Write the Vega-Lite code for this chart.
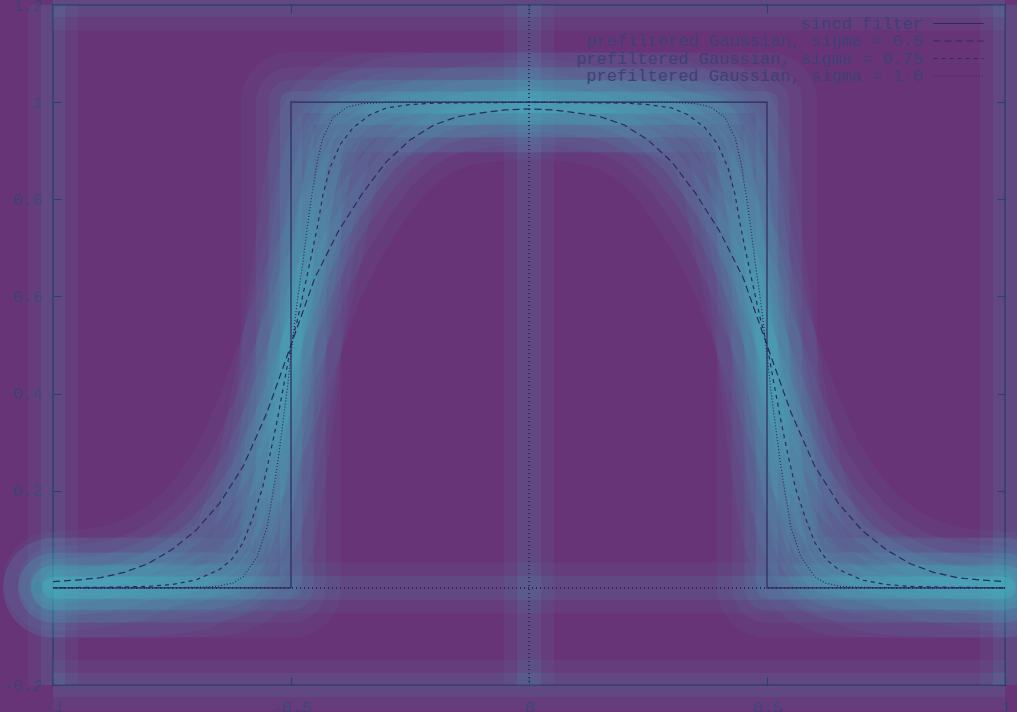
{
  "$schema": "https://vega.github.io/schema/vega-lite/v6.json",
  "width": 952,
  "height": 680,
  "autosize": "none",
  "padding": {"left": 53, "top": 5, "right": 12, "bottom": 27},
  "background": "#683478",
  "config": {
    "view": {"stroke": "#2c2a5e", "strokeWidth": 1.5},
    "font": "Liberation Mono",
    "axis": {
      "domain": false,
      "grid": false,
      "tickColor": "#2c2a5e",
      "tickWidth": 1.2,
      "tickSize": -8,
      "labelFont": "Liberation Mono",
      "labelFontSize": 16.5,
      "labelColor": "#3d4176",
      "labelFlush": false,
      "title": null
    },
    "legend": {
      "orient": "none",
      "legendX": 897,
      "legendY": 10,
      "symbolType": "M-5,0H5",
      "symbolSize": 100,
      "symbolStrokeWidth": 1.2,
      "symbolStrokeColor": "#2c2a5e",
      "symbolFillColor": "transparent",
      "labelFont": "Liberation Mono",
      "labelFontSize": 17,
      "labelColor": "#3d4176",
      "labelAlign": "right",
      "labelOffset": -44,
      "labelLimit": 0,
      "rowPadding": -0.5,
      "title": null
    }
  },
  "datasets": {
    "vr": [{"x": -1}, {"x": 0}, {"x": 1}],
    "hr": [{"y": -0.2}, {"y": 0}, {"y": 1.2}]
  },
  "data": {"values": [
    {"s": "sincd filter", "x": -1, "y": 0},
    {"s": "sincd filter", "x": -0.5, "y": 0},
    {"s": "sincd filter", "x": -0.5, "y": 1},
    {"s": "sincd filter", "x": 0.5, "y": 1},
    {"s": "sincd filter", "x": 0.5, "y": 0},
    {"s": "sincd filter", "x": 1, "y": 0},

    {"s": "prefiltered Gaussian, sigma = 0.5", "x": -1, "y": 0.013},
    {"s": "prefiltered Gaussian, sigma = 0.5", "x": -0.95, "y": 0.016},
    {"s": "prefiltered Gaussian, sigma = 0.5", "x": -0.9, "y": 0.021},
    {"s": "prefiltered Gaussian, sigma = 0.5", "x": -0.85, "y": 0.032},
    {"s": "prefiltered Gaussian, sigma = 0.5", "x": -0.8, "y": 0.05},
    {"s": "prefiltered Gaussian, sigma = 0.5", "x": -0.75, "y": 0.079},
    {"s": "prefiltered Gaussian, sigma = 0.5", "x": -0.7, "y": 0.118},
    {"s": "prefiltered Gaussian, sigma = 0.5", "x": -0.65, "y": 0.174},
    {"s": "prefiltered Gaussian, sigma = 0.5", "x": -0.6, "y": 0.251},
    {"s": "prefiltered Gaussian, sigma = 0.5", "x": -0.55, "y": 0.362},
    {"s": "prefiltered Gaussian, sigma = 0.5", "x": -0.5, "y": 0.5},
    {"s": "prefiltered Gaussian, sigma = 0.5", "x": -0.45, "y": 0.638},
    {"s": "prefiltered Gaussian, sigma = 0.5", "x": -0.4, "y": 0.735},
    {"s": "prefiltered Gaussian, sigma = 0.5", "x": -0.35, "y": 0.812},
    {"s": "prefiltered Gaussian, sigma = 0.5", "x": -0.3, "y": 0.877},
    {"s": "prefiltered Gaussian, sigma = 0.5", "x": -0.25, "y": 0.922},
    {"s": "prefiltered Gaussian, sigma = 0.5", "x": -0.2, "y": 0.953},
    {"s": "prefiltered Gaussian, sigma = 0.5", "x": -0.15, "y": 0.97},
    {"s": "prefiltered Gaussian, sigma = 0.5", "x": -0.1, "y": 0.978},
    {"s": "prefiltered Gaussian, sigma = 0.5", "x": -0.05, "y": 0.984},
    {"s": "prefiltered Gaussian, sigma = 0.5", "x": 0, "y": 0.986},
    {"s": "prefiltered Gaussian, sigma = 0.5", "x": 0.05, "y": 0.984},
    {"s": "prefiltered Gaussian, sigma = 0.5", "x": 0.1, "y": 0.978},
    {"s": "prefiltered Gaussian, sigma = 0.5", "x": 0.15, "y": 0.97},
    {"s": "prefiltered Gaussian, sigma = 0.5", "x": 0.2, "y": 0.953},
    {"s": "prefiltered Gaussian, sigma = 0.5", "x": 0.25, "y": 0.922},
    {"s": "prefiltered Gaussian, sigma = 0.5", "x": 0.3, "y": 0.877},
    {"s": "prefiltered Gaussian, sigma = 0.5", "x": 0.35, "y": 0.812},
    {"s": "prefiltered Gaussian, sigma = 0.5", "x": 0.4, "y": 0.735},
    {"s": "prefiltered Gaussian, sigma = 0.5", "x": 0.45, "y": 0.638},
    {"s": "prefiltered Gaussian, sigma = 0.5", "x": 0.5, "y": 0.5},
    {"s": "prefiltered Gaussian, sigma = 0.5", "x": 0.55, "y": 0.362},
    {"s": "prefiltered Gaussian, sigma = 0.5", "x": 0.6, "y": 0.251},
    {"s": "prefiltered Gaussian, sigma = 0.5", "x": 0.65, "y": 0.174},
    {"s": "prefiltered Gaussian, sigma = 0.5", "x": 0.7, "y": 0.118},
    {"s": "prefiltered Gaussian, sigma = 0.5", "x": 0.75, "y": 0.079},
    {"s": "prefiltered Gaussian, sigma = 0.5", "x": 0.8, "y": 0.05},
    {"s": "prefiltered Gaussian, sigma = 0.5", "x": 0.85, "y": 0.032},
    {"s": "prefiltered Gaussian, sigma = 0.5", "x": 0.9, "y": 0.021},
    {"s": "prefiltered Gaussian, sigma = 0.5", "x": 0.95, "y": 0.016},
    {"s": "prefiltered Gaussian, sigma = 0.5", "x": 1, "y": 0.013},

    {"s": "prefiltered Gaussian, sigma = 0.75", "x": -1, "y": 0.0005},
    {"s": "prefiltered Gaussian, sigma = 0.75", "x": -0.9, "y": 0.001},
    {"s": "prefiltered Gaussian, sigma = 0.75", "x": -0.8, "y": 0.003},
    {"s": "prefiltered Gaussian, sigma = 0.75", "x": -0.75, "y": 0.007},
    {"s": "prefiltered Gaussian, sigma = 0.75", "x": -0.7, "y": 0.016},
    {"s": "prefiltered Gaussian, sigma = 0.75", "x": -0.65, "y": 0.038},
    {"s": "prefiltered Gaussian, sigma = 0.75", "x": -0.625, "y": 0.058},
    {"s": "prefiltered Gaussian, sigma = 0.75", "x": -0.6, "y": 0.094},
    {"s": "prefiltered Gaussian, sigma = 0.75", "x": -0.58, "y": 0.146},
    {"s": "prefiltered Gaussian, sigma = 0.75", "x": -0.56, "y": 0.205},
    {"s": "prefiltered Gaussian, sigma = 0.75", "x": -0.545, "y": 0.27},
    {"s": "prefiltered Gaussian, sigma = 0.75", "x": -0.53, "y": 0.34},
    {"s": "prefiltered Gaussian, sigma = 0.75", "x": -0.517, "y": 0.408},
    {"s": "prefiltered Gaussian, sigma = 0.75", "x": -0.5, "y": 0.5},
    {"s": "prefiltered Gaussian, sigma = 0.75", "x": -0.487, "y": 0.55},
    {"s": "prefiltered Gaussian, sigma = 0.75", "x": -0.475, "y": 0.603},
    {"s": "prefiltered Gaussian, sigma = 0.75", "x": -0.46, "y": 0.671},
    {"s": "prefiltered Gaussian, sigma = 0.75", "x": -0.445, "y": 0.741},
    {"s": "prefiltered Gaussian, sigma = 0.75", "x": -0.433, "y": 0.809},
    {"s": "prefiltered Gaussian, sigma = 0.75", "x": -0.418, "y": 0.865},
    {"s": "prefiltered Gaussian, sigma = 0.75", "x": -0.397, "y": 0.912},
    {"s": "prefiltered Gaussian, sigma = 0.75", "x": -0.37, "y": 0.947},
    {"s": "prefiltered Gaussian, sigma = 0.75", "x": -0.334, "y": 0.974},
    {"s": "prefiltered Gaussian, sigma = 0.75", "x": -0.3, "y": 0.988},
    {"s": "prefiltered Gaussian, sigma = 0.75", "x": -0.25, "y": 0.995},
    {"s": "prefiltered Gaussian, sigma = 0.75", "x": -0.2, "y": 0.998},
    {"s": "prefiltered Gaussian, sigma = 0.75", "x": -0.1, "y": 0.999},
    {"s": "prefiltered Gaussian, sigma = 0.75", "x": 0, "y": 0.9995},
    {"s": "prefiltered Gaussian, sigma = 0.75", "x": 0.1, "y": 0.999},
    {"s": "prefiltered Gaussian, sigma = 0.75", "x": 0.2, "y": 0.998},
    {"s": "prefiltered Gaussian, sigma = 0.75", "x": 0.25, "y": 0.995},
    {"s": "prefiltered Gaussian, sigma = 0.75", "x": 0.3, "y": 0.988},
    {"s": "prefiltered Gaussian, sigma = 0.75", "x": 0.334, "y": 0.974},
    {"s": "prefiltered Gaussian, sigma = 0.75", "x": 0.37, "y": 0.947},
    {"s": "prefiltered Gaussian, sigma = 0.75", "x": 0.397, "y": 0.912},
    {"s": "prefiltered Gaussian, sigma = 0.75", "x": 0.418, "y": 0.865},
    {"s": "prefiltered Gaussian, sigma = 0.75", "x": 0.433, "y": 0.809},
    {"s": "prefiltered Gaussian, sigma = 0.75", "x": 0.445, "y": 0.741},
    {"s": "prefiltered Gaussian, sigma = 0.75", "x": 0.46, "y": 0.671},
    {"s": "prefiltered Gaussian, sigma = 0.75", "x": 0.475, "y": 0.603},
    {"s": "prefiltered Gaussian, sigma = 0.75", "x": 0.487, "y": 0.55},
    {"s": "prefiltered Gaussian, sigma = 0.75", "x": 0.5, "y": 0.5},
    {"s": "prefiltered Gaussian, sigma = 0.75", "x": 0.517, "y": 0.408},
    {"s": "prefiltered Gaussian, sigma = 0.75", "x": 0.53, "y": 0.34},
    {"s": "prefiltered Gaussian, sigma = 0.75", "x": 0.545, "y": 0.27},
    {"s": "prefiltered Gaussian, sigma = 0.75", "x": 0.56, "y": 0.205},
    {"s": "prefiltered Gaussian, sigma = 0.75", "x": 0.58, "y": 0.146},
    {"s": "prefiltered Gaussian, sigma = 0.75", "x": 0.6, "y": 0.094},
    {"s": "prefiltered Gaussian, sigma = 0.75", "x": 0.625, "y": 0.058},
    {"s": "prefiltered Gaussian, sigma = 0.75", "x": 0.65, "y": 0.038},
    {"s": "prefiltered Gaussian, sigma = 0.75", "x": 0.7, "y": 0.016},
    {"s": "prefiltered Gaussian, sigma = 0.75", "x": 0.75, "y": 0.007},
    {"s": "prefiltered Gaussian, sigma = 0.75", "x": 0.8, "y": 0.003},
    {"s": "prefiltered Gaussian, sigma = 0.75", "x": 0.9, "y": 0.001},
    {"s": "prefiltered Gaussian, sigma = 0.75", "x": 1, "y": 0.0005},

    {"s": "prefiltered Gaussian, sigma = 1.0", "x": -1, "y": 0},
    {"s": "prefiltered Gaussian, sigma = 1.0", "x": -0.8, "y": 0},
    {"s": "prefiltered Gaussian, sigma = 1.0", "x": -0.7, "y": 0.001},
    {"s": "prefiltered Gaussian, sigma = 1.0", "x": -0.655, "y": 0.003},
    {"s": "prefiltered Gaussian, sigma = 1.0", "x": -0.622, "y": 0.01},
    {"s": "prefiltered Gaussian, sigma = 1.0", "x": -0.6, "y": 0.023},
    {"s": "prefiltered Gaussian, sigma = 1.0", "x": -0.571, "y": 0.064},
    {"s": "prefiltered Gaussian, sigma = 1.0", "x": -0.55, "y": 0.126},
    {"s": "prefiltered Gaussian, sigma = 1.0", "x": -0.538, "y": 0.196},
    {"s": "prefiltered Gaussian, sigma = 1.0", "x": -0.527, "y": 0.264},
    {"s": "prefiltered Gaussian, sigma = 1.0", "x": -0.517, "y": 0.34},
    {"s": "prefiltered Gaussian, sigma = 1.0", "x": -0.508, "y": 0.408},
    {"s": "prefiltered Gaussian, sigma = 1.0", "x": -0.5, "y": 0.48},
    {"s": "prefiltered Gaussian, sigma = 1.0", "x": -0.492, "y": 0.548},
    {"s": "prefiltered Gaussian, sigma = 1.0", "x": -0.485, "y": 0.603},
    {"s": "prefiltered Gaussian, sigma = 1.0", "x": -0.475, "y": 0.671},
    {"s": "prefiltered Gaussian, sigma = 1.0", "x": -0.466, "y": 0.741},
    {"s": "prefiltered Gaussian, sigma = 1.0", "x": -0.456, "y": 0.809},
    {"s": "prefiltered Gaussian, sigma = 1.0", "x": -0.445, "y": 0.877},
    {"s": "prefiltered Gaussian, sigma = 1.0", "x": -0.433, "y": 0.926},
    {"s": "prefiltered Gaussian, sigma = 1.0", "x": -0.412, "y": 0.968},
    {"s": "prefiltered Gaussian, sigma = 1.0", "x": -0.382, "y": 0.99},
    {"s": "prefiltered Gaussian, sigma = 1.0", "x": -0.35, "y": 0.997},
    {"s": "prefiltered Gaussian, sigma = 1.0", "x": -0.3, "y": 0.9995},
    {"s": "prefiltered Gaussian, sigma = 1.0", "x": 0, "y": 1},
    {"s": "prefiltered Gaussian, sigma = 1.0", "x": 0.3, "y": 0.9995},
    {"s": "prefiltered Gaussian, sigma = 1.0", "x": 0.35, "y": 0.997},
    {"s": "prefiltered Gaussian, sigma = 1.0", "x": 0.382, "y": 0.99},
    {"s": "prefiltered Gaussian, sigma = 1.0", "x": 0.412, "y": 0.968},
    {"s": "prefiltered Gaussian, sigma = 1.0", "x": 0.433, "y": 0.926},
    {"s": "prefiltered Gaussian, sigma = 1.0", "x": 0.445, "y": 0.877},
    {"s": "prefiltered Gaussian, sigma = 1.0", "x": 0.456, "y": 0.809},
    {"s": "prefiltered Gaussian, sigma = 1.0", "x": 0.466, "y": 0.741},
    {"s": "prefiltered Gaussian, sigma = 1.0", "x": 0.475, "y": 0.671},
    {"s": "prefiltered Gaussian, sigma = 1.0", "x": 0.485, "y": 0.603},
    {"s": "prefiltered Gaussian, sigma = 1.0", "x": 0.492, "y": 0.548},
    {"s": "prefiltered Gaussian, sigma = 1.0", "x": 0.5, "y": 0.48},
    {"s": "prefiltered Gaussian, sigma = 1.0", "x": 0.508, "y": 0.408},
    {"s": "prefiltered Gaussian, sigma = 1.0", "x": 0.517, "y": 0.34},
    {"s": "prefiltered Gaussian, sigma = 1.0", "x": 0.527, "y": 0.264},
    {"s": "prefiltered Gaussian, sigma = 1.0", "x": 0.538, "y": 0.196},
    {"s": "prefiltered Gaussian, sigma = 1.0", "x": 0.55, "y": 0.126},
    {"s": "prefiltered Gaussian, sigma = 1.0", "x": 0.571, "y": 0.064},
    {"s": "prefiltered Gaussian, sigma = 1.0", "x": 0.6, "y": 0.023},
    {"s": "prefiltered Gaussian, sigma = 1.0", "x": 0.622, "y": 0.01},
    {"s": "prefiltered Gaussian, sigma = 1.0", "x": 0.655, "y": 0.003},
    {"s": "prefiltered Gaussian, sigma = 1.0", "x": 0.7, "y": 0.001},
    {"s": "prefiltered Gaussian, sigma = 1.0", "x": 0.8, "y": 0},
    {"s": "prefiltered Gaussian, sigma = 1.0", "x": 1, "y": 0}
  ]},
  "resolve": {"axis": {"x": "independent", "y": "independent"}},
  "layer": [
    {
      "data": {"name": "vr"},
      "mark": {"type": "rule", "color": "#46c8d2", "strokeWidth": 50, "opacity": 0.06},
      "encoding": {"x": {"field": "x", "type": "quantitative", "axis": null}}
    },
    {
      "data": {"name": "vr"},
      "mark": {"type": "rule", "color": "#46c8d2", "strokeWidth": 24, "opacity": 0.09},
      "encoding": {"x": {"field": "x", "type": "quantitative", "axis": null}}
    },
    {
      "data": {"name": "hr"},
      "mark": {"type": "rule", "color": "#46c8d2", "strokeWidth": 50, "opacity": 0.06},
      "encoding": {"y": {"field": "y", "type": "quantitative", "axis": null}}
    },
    {
      "data": {"name": "hr"},
      "mark": {"type": "rule", "color": "#46c8d2", "strokeWidth": 24, "opacity": 0.09},
      "encoding": {"y": {"field": "y", "type": "quantitative", "axis": null}}
    },
    {
      "mark": {"type": "line", "color": "#46c8d2", "strokeWidth": 100, "opacity": 0.05, "strokeCap": "round", "strokeJoin": "round"},
      "encoding": {
        "x": {"field": "x", "type": "quantitative", "axis": null},
        "y": {"field": "y", "type": "quantitative", "axis": null},
        "detail": {"field": "s"}
      }
    },
    {
      "mark": {"type": "line", "color": "#46c8d2", "strokeWidth": 70, "opacity": 0.06, "strokeCap": "round", "strokeJoin": "round"},
      "encoding": {
        "x": {"field": "x", "type": "quantitative", "axis": null},
        "y": {"field": "y", "type": "quantitative", "axis": null},
        "detail": {"field": "s"}
      }
    },
    {
      "mark": {"type": "line", "color": "#46c8d2", "strokeWidth": 45, "opacity": 0.08, "strokeCap": "round", "strokeJoin": "round"},
      "encoding": {
        "x": {"field": "x", "type": "quantitative", "axis": null},
        "y": {"field": "y", "type": "quantitative", "axis": null},
        "detail": {"field": "s"}
      }
    },
    {
      "mark": {"type": "line", "color": "#46c8d2", "strokeWidth": 22, "opacity": 0.1, "strokeCap": "round", "strokeJoin": "round"},
      "encoding": {
        "x": {"field": "x", "type": "quantitative", "axis": null},
        "y": {"field": "y", "type": "quantitative", "axis": null},
        "detail": {"field": "s"}
      }
    },
    {
      "mark": {"type": "rule", "color": "#2c2a5e", "strokeWidth": 1, "strokeDash": [1, 3]},
      "encoding": {
        "x": {"datum": 0, "type": "quantitative", "scale": {"domain": [-1, 1], "nice": false},
          "axis": {"orient": "top", "values": [-1, -0.5, 0, 0.5, 1], "labels": false}}
      }
    },
    {
      "mark": {"type": "rule", "color": "#2c2a5e", "strokeWidth": 1, "strokeDash": [1, 3]},
      "encoding": {
        "y": {"datum": 0, "type": "quantitative", "scale": {"domain": [-0.2, 1.2], "nice": false, "zero": false},
          "axis": {"orient": "right", "values": [-0.2, 0, 0.2, 0.4, 0.6, 0.8, 1, 1.2], "labels": false}}
      }
    },
    {
      "mark": {"type": "line", "color": "#2c2a5e", "strokeWidth": 1.2, "clip": true},
      "encoding": {
        "x": {"field": "x", "type": "quantitative", "scale": {"domain": [-1, 1], "nice": false},
          "axis": {"orient": "bottom", "values": [-1, -0.5, 0, 0.5, 1], "labelPadding": 22, "labelBaseline": "top", "labelExpr": "'' + datum.value"}},
        "y": {"field": "y", "type": "quantitative", "scale": {"domain": [-0.2, 1.2], "nice": false, "zero": false},
          "axis": {"orient": "left", "values": [-0.2, 0, 0.2, 0.4, 0.6, 0.8, 1, 1.2], "labelPadding": 19, "labelExpr": "'' + datum.value"}},
        "strokeDash": {"field": "s", "type": "nominal",
          "scale": {"domain": ["sincd filter", "prefiltered Gaussian, sigma = 0.5", "prefiltered Gaussian, sigma = 0.75", "prefiltered Gaussian, sigma = 1.0"],
            "range": [[1, 0], [7, 4], [4, 4], [1, 2]]}}
      }
    }
  ]
}
